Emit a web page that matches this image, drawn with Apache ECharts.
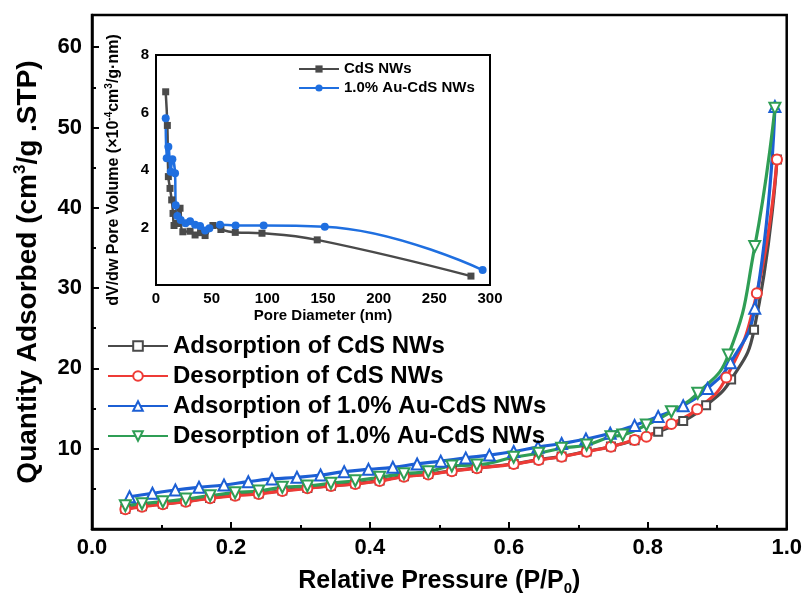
<!DOCTYPE html>
<html><head><meta charset="utf-8">
<script src="https://cdn.jsdelivr.net/npm/echarts@6.0.0/dist/echarts.min.js"></script>
<style>html,body{margin:0;padding:0;background:#fff}#c{width:805px;height:602px}</style>
</head><body><div id="c"></div><script>
// ---- Main isotherm data: relative pressure (P/P0) and quantity adsorbed (cm3/g STP)
const pAdsCdS = [0.048,0.072,0.102,0.135,0.170,0.206,0.240,0.274,0.31,0.344,0.379,0.414,0.449,0.484,0.518,0.554,0.607,0.643,0.676,0.712,0.747,0.781,0.815,0.851,0.884,0.92,0.953,0.986];
const qAdsCdS = [2.5,2.83,3.13,3.45,3.87,4.2,4.41,4.78,5.12,5.4,5.65,6.03,6.56,6.84,7.25,7.6,8.12,8.64,9.04,9.66,10.27,11.05,12.1,13.45,15.4,18.6,24.8,46.0];
const pDesCdS = [0.048,0.072,0.102,0.135,0.170,0.206,0.240,0.274,0.31,0.344,0.379,0.414,0.449,0.484,0.518,0.554,0.607,0.643,0.676,0.712,0.747,0.781,0.798,0.834,0.871,0.913,0.957,0.986];
const qDesCdS = [2.45,2.78,3.08,3.4,3.82,4.15,4.36,4.73,5.07,5.35,5.6,5.98,6.51,6.79,7.2,7.56,8.08,8.6,9.0,9.63,10.25,11.08,11.5,13.07,14.9,18.85,29.35,46.0];
const pAdsAu = [0.054,0.087,0.12,0.154,0.19,0.225,0.259,0.295,0.329,0.363,0.398,0.433,0.468,0.502,0.538,0.572,0.607,0.642,0.676,0.711,0.746,0.781,0.815,0.851,0.886,0.919,0.954,0.983];
const qAdsAu = [4.02,4.45,4.86,5.19,5.48,5.89,6.23,6.44,6.72,7.14,7.43,7.68,8.1,8.45,8.85,9.2,9.65,10.2,10.65,11.2,11.92,12.9,14.0,15.35,17.5,20.7,27.5,52.6];
const pDesAu = [0.048,0.072,0.102,0.135,0.170,0.206,0.240,0.274,0.31,0.344,0.379,0.414,0.449,0.484,0.518,0.554,0.607,0.643,0.676,0.712,0.747,0.764,0.798,0.834,0.872,0.916,0.954,0.983];
const qDesAu = [2.9,3.15,3.4,3.72,4.15,4.52,4.73,5.19,5.35,5.69,6.01,6.44,6.89,7.14,7.85,7.97,8.93,9.43,10.05,10.46,11.49,11.7,12.95,14.6,16.9,21.67,35.16,52.4];

// ---- Inset: pore size distribution
const dCdS = [8.7,10.2,11.1,12.6,14.1,15.3,16.2,19.2,21.6,24.1,30.6,35.1,40,44.1,51.1,58.3,71.2,95.2,144.8,282.9];
const vCdS = [6.72,5.55,3.77,3.36,2.96,2.49,2.07,2.14,2.67,1.85,1.87,1.74,1.82,1.72,2.07,1.93,1.83,1.80,1.57,0.31];
const dAu = [8.7,9.6,11.1,13.2,14.7,17.1,17.7,19.2,22.2,26.5,30.6,35.1,39.6,44.1,48,57.5,71.5,96.7,151.6,293.4];
const vAu = [5.8,4.41,4.81,3.94,4.37,3.89,2.77,2.4,2.26,2.15,2.22,2.1,2.05,1.9,1.97,2.1,2.07,2.07,2.03,0.52];

// ---- Tick labels
const xTicksMain = [0,0.2,0.4,0.6,0.8,1.0];
const yTicksMain = [10,20,30,40,50,60];
const yMinorMain = [5,15,25,35,45,55];

const seriesNames = ['Adsorption of CdS NWs','Desorption of CdS NWs','Adsorption of 1.0% Au-CdS NWs','Desorption of 1.0% Au-CdS NWs'];
const insetNames = ['CdS NWs','1.0% Au-CdS NWs'];

const FF = '"Liberation Sans", Arial, sans-serif';
const zip = (a,b) => a.map((v,i)=>[v,b[i]]);
const C = {gray:'#4a4a4a', red:'#ee3b36', blue:'#1c5fd4', green:'#2f9e55', iblue:'#1f6fe0'};

function mainSeries(name, px, py, color, symbol, rot, size){
  return {name, type:'line', xAxisIndex:0, yAxisIndex:0, data:zip(px,py), smooth:0.5,
    symbol, symbolSize:size, symbolRotate:rot, showAllSymbol:true,
    lineStyle:{color, width:3.2}, itemStyle:{color, borderColor:color, borderWidth:1.6}, emphasis:{disabled:true}};
}
function insetSeries(name, px, py, color, symbol, size){
  return {name, type:'line', xAxisIndex:1, yAxisIndex:2, data:zip(px,py), smooth:0.45,
    symbol, symbolSize:size, showAllSymbol:true, z:5,
    lineStyle:{color, width:2.5}, itemStyle:{color}, emphasis:{disabled:true}};
}

const chart = echarts.init(document.getElementById('c'), null, {renderer:'canvas'});
chart.setOption({
  animation:false,
  textStyle:{fontFamily:FF},
  grid:[
    {left:92, right:16, top:15, bottom:73, show:true, borderColor:'#000', borderWidth:2.5, backgroundColor:'transparent'},
    {left:156, top:55, width:334, height:230, show:true, borderColor:'#000', borderWidth:2, backgroundColor:'#fff', z:3}
  ],
  legend:[
    {data:seriesNames, orient:'vertical', left:107, top:334, padding:0, itemWidth:60, itemHeight:12, itemGap:6, selectedMode:false,
     textStyle:{fontFamily:FF, fontSize:24, fontWeight:'bold', color:'#000', lineHeight:24}},
    {data:insetNames, orient:'vertical', left:298, top:61, padding:0, itemWidth:40, itemHeight:9, itemGap:3, selectedMode:false, z:6,
     textStyle:{fontFamily:FF, fontSize:15, fontWeight:'bold', color:'#000', lineHeight:16}}
  ],
  xAxis:[
    {gridIndex:0, type:'value', min:0, max:1, interval:0.2,
     axisLine:{show:true, lineStyle:{color:'#000', width:2.5}},
     axisTick:{show:true, inside:true, length:7, lineStyle:{color:'#000', width:2}},
     minorTick:{show:true, splitNumber:2, length:4, lineStyle:{color:'#000', width:2}},
     splitLine:{show:false},
     axisLabel:{formatter:v=>xTicksMain.includes(+v.toFixed(1)) ? v.toFixed(1) : '', fontFamily:FF, fontSize:22, fontWeight:'bold', color:'#000', margin:8},
     name:'Relative Pressure (P/P{sub|0})', nameLocation:'middle', nameGap:37,
     nameTextStyle:{fontFamily:FF, fontSize:25, fontWeight:'bold', color:'#000', lineHeight:30,
       rich:{sub:{fontFamily:FF, fontSize:15, fontWeight:'bold', color:'#000', lineHeight:14, verticalAlign:'bottom'}}}},
    {gridIndex:1, type:'value', min:0, max:300, interval:50,
     axisLine:{show:true, lineStyle:{color:'#000', width:2}},
     axisTick:{show:true, inside:true, length:5, lineStyle:{color:'#000', width:1.5}},
     splitLine:{show:false},
     axisLabel:{fontFamily:FF, fontSize:15, fontWeight:'bold', color:'#000', margin:6},
     name:'Pore Diameter (nm)', nameLocation:'middle', nameGap:23,
     nameTextStyle:{fontFamily:FF, fontSize:15, fontWeight:'bold', color:'#000'}}
  ],
  yAxis:[
    {gridIndex:0, type:'value', min:0, max:64, position:'left',
     axisLine:{show:true, lineStyle:{color:'#000', width:2.5}},
     axisTick:{show:true, inside:true, length:7, customValues:yTicksMain, lineStyle:{color:'#000', width:2}},
     splitLine:{show:false},
     axisLabel:{customValues:yTicksMain, fontFamily:FF, fontSize:22, fontWeight:'bold', color:'#000', margin:10},
     name:'Quantity Adsorbed (cm{sup|3}/g .STP)', nameLocation:'middle', nameGap:48,
     nameTextStyle:{fontFamily:FF, fontSize:28, fontWeight:'bold', color:'#000', lineHeight:32,
       rich:{sup:{fontFamily:FF, fontSize:17, fontWeight:'bold', color:'#000', lineHeight:17, verticalAlign:'top'}}}},
    {gridIndex:0, type:'value', min:0, max:64, position:'left',
     axisLine:{show:false}, axisLabel:{show:false}, splitLine:{show:false},
     axisTick:{show:true, inside:true, length:4, customValues:yMinorMain, lineStyle:{color:'#000', width:2}}},
    {gridIndex:1, type:'value', min:0, max:8, interval:2,
     axisLine:{show:true, lineStyle:{color:'#000', width:2}},
     axisTick:{show:true, inside:true, length:5, lineStyle:{color:'#000', width:1.5}},
     minorTick:{show:true, splitNumber:2, length:3, lineStyle:{color:'#000', width:1.5}},
     splitLine:{show:false},
     axisLabel:{formatter:v=>v===0?'':String(v), fontFamily:FF, fontSize:15, fontWeight:'bold', color:'#000', margin:7},
     name:'dV/dw Pore Volume (\u00d710{sup|-4}cm{sup|3}/g\u00b7nm)', nameLocation:'middle', nameGap:32,
     nameTextStyle:{fontFamily:FF, fontSize:16, fontWeight:'bold', color:'#000', lineHeight:20,
       rich:{sup:{fontFamily:FF, fontSize:10, fontWeight:'bold', color:'#000', lineHeight:10, verticalAlign:'top'}}}}
  ],
  series:[
    mainSeries(seriesNames[0], pAdsCdS, qAdsCdS, C.gray, 'emptyRect', 0, 8),
    mainSeries(seriesNames[1], pDesCdS, qDesCdS, C.red, 'emptyCircle', 0, 10),
    mainSeries(seriesNames[2], pAdsAu, qAdsAu, C.blue, 'emptyTriangle', 0, 11),
    mainSeries(seriesNames[3], pDesAu, qDesAu, C.green, 'emptyTriangle', 180, 11),
    insetSeries(insetNames[0], dCdS, vCdS, C.gray, 'rect', 7),
    insetSeries(insetNames[1], dAu, vAu, C.iblue, 'circle', 8)
  ]
});
</script></body></html>
